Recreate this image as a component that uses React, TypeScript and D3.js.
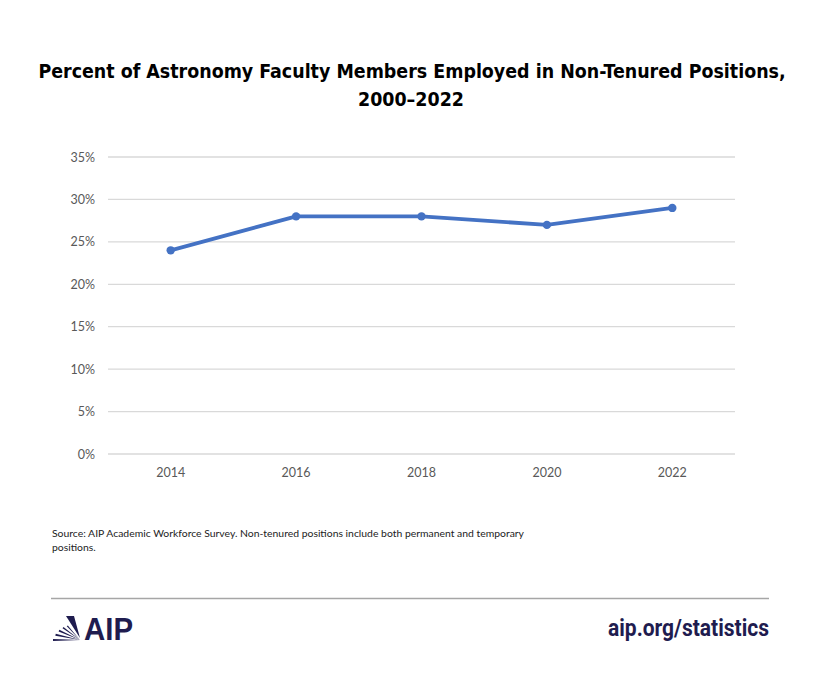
import React, { useEffect, useRef } from 'react';
import * as d3 from 'd3';

const years = ['2014', '2016', '2018', '2020', '2022'];
const nonTenured = [24, 28, 28, 27, 29];
const yTicks = [0, 5, 10, 15, 20, 25, 30, 35];

const navy = '#1f1c4f';

const App: React.FC = () => {
  const ref = useRef<SVGSVGElement>(null);

  useEffect(() => {
    const svg = d3.select(ref.current);
    svg.selectAll('*').remove();

    // white background
    svg.append('rect').attr('width', 820).attr('height', 678).attr('fill', '#fff');

    // title, sized to fit the reference width
    const title = svg.append('g').attr('font-family', '"Liberation Sans Narrow", "DejaVu Sans Condensed", sans-serif')
      .attr('font-weight', 'bold').attr('font-size', 22).attr('fill', '#000').attr('text-anchor', 'middle');
    const t1 = title.append('text').attr('x', 412).attr('y', 78)
      .text('Percent of Astronomy Faculty Members Employed in Non-Tenured Positions,');
    const w1 = (t1.node() as SVGTextElement).getComputedTextLength();
    const fs = Math.min(24, 22 * 748 / w1);
    title.attr('font-size', fs);
    title.append('text').attr('x', 411).attr('y', 106).text('2000–2022');

    const x = d3.scaleBand<string>().domain(years).range([108, 735]);
    const y = d3.scaleLinear().domain([0, 35]).range([454, 157]);

    // gridlines
    svg.append('g').selectAll('line').data(yTicks).enter().append('line')
      .attr('x1', 108).attr('x2', 735)
      .attr('y1', d => y(d)).attr('y2', d => y(d))
      .attr('stroke', '#d9d9d9').attr('stroke-width', 1.3);

    // y labels
    svg.append('g').selectAll('text').data(yTicks).enter().append('text')
      .attr('x', 95).attr('y', d => y(d) + 4.5)
      .attr('text-anchor', 'end').attr('font-family', 'Lato, sans-serif')
      .attr('font-size', 12.5).attr('fill', '#595959')
      .text(d => `${d}%`);

    // x labels
    svg.append('g').selectAll('text').data(years).enter().append('text')
      .attr('x', d => (x(d) as number) + x.bandwidth() / 2).attr('y', 477)
      .attr('text-anchor', 'middle').attr('font-family', 'Lato, sans-serif')
      .attr('font-size', 12.5).attr('fill', '#595959')
      .text(d => d);

    const pts = years.map((yr, i) => ({ yr, v: nonTenured[i] }));
    const line = d3.line<{ yr: string; v: number }>()
      .x(d => (x(d.yr) as number) + x.bandwidth() / 2)
      .y(d => y(d.v));

    svg.append('path').datum(pts).attr('d', line)
      .attr('fill', 'none').attr('stroke', '#4472c4').attr('stroke-width', 3.8)
      .attr('stroke-linejoin', 'round').attr('stroke-linecap', 'round');

    svg.append('g').selectAll('circle').data(pts).enter().append('circle')
      .attr('cx', d => (x(d.yr) as number) + x.bandwidth() / 2)
      .attr('cy', d => y(d.v)).attr('r', 4.2).attr('fill', '#4472c4');

    // source note
    const src = svg.append('g').attr('font-family', 'Lato, sans-serif').attr('font-size', 10.4).attr('fill', '#222');
    src.append('text').attr('x', 52).attr('y', 537)
      .text('Source: AIP Academic Workforce Survey. Non-tenured positions include both permanent and temporary');
    src.append('text').attr('x', 52).attr('y', 551).text('positions.');

    // separator
    svg.append('line').attr('x1', 51).attr('x2', 769).attr('y1', 598.5).attr('y2', 598.5)
      .attr('stroke', '#a6a6a6').attr('stroke-width', 1.5);

    // AIP logo: fan of rays
    const logo = svg.append('g').attr('fill', navy);
    const ox = 80, oy = 640;
    const angles = [0, 12, 24, 36, 48];
    angles.forEach((a, i) => {
      const r = 27 - i * 2;
      const t = (a * Math.PI) / 180;
      const w = 2.2 - i * 0.2;
      const dx = -Math.cos(t) * r, dy = -Math.sin(t) * r;
      const nx = -Math.sin(t) * w, ny = Math.cos(t) * w;
      logo.append('path')
        .attr('d', `M${ox},${oy} L${ox + dx - nx / 2},${oy + dy - ny / 2} L${ox + dx + nx / 2},${oy + dy + ny / 2} Z`);
    });
    logo.append('path').attr('d', `M${ox - 14},${oy - 24} L${ox - 6},${oy - 24} L${ox},${oy - 2} Z`);
    logo.append('text').attr('x', 84).attr('y', 640)
      .attr('font-family', '"Liberation Sans", Arial, sans-serif').attr('font-weight', 'bold')
      .attr('font-size', 31).attr('textLength', 49).attr('lengthAdjust', 'spacingAndGlyphs')
      .text('AIP');

    // url
    svg.append('text').attr('x', 769).attr('y', 636).attr('text-anchor', 'end')
      .attr('font-family', 'Roboto, sans-serif').attr('font-weight', 'bold').attr('font-size', 23)
      .attr('fill', navy).attr('textLength', 161).attr('lengthAdjust', 'spacingAndGlyphs')
      .text('aip.org/statistics');
  }, []);

  return <svg ref={ref} width={820} height={678} style={{ display: 'block', margin: '-8px' }} />;
};

export default App;
